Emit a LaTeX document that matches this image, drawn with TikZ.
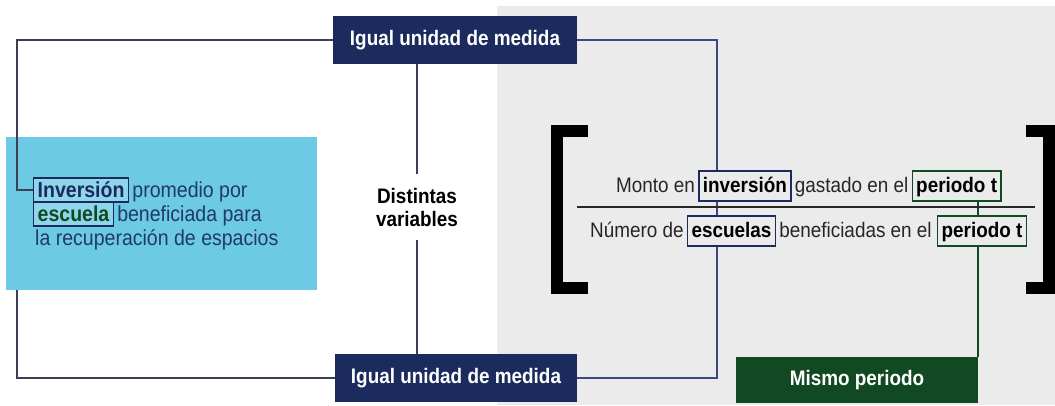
\documentclass[tikz,border=0pt]{standalone}
\usepackage{fontspec}
\setmainfont{Liberation Sans}[FakeStretch=0.9]
\usepackage{xcolor}
\usepackage{tikz}
\usetikzlibrary{positioning,backgrounds}

\definecolor{navy}{HTML}{1C2B5E}
\definecolor{dkgreen}{HTML}{114A22}
\definecolor{skyblue}{HTML}{6DCAE5}
\definecolor{lightsky}{HTML}{8FD6EC}
\definecolor{panelgrey}{HTML}{EBEBEB}
\definecolor{textnavy}{HTML}{21386A}
\definecolor{linegrey}{HTML}{3B4055}
\definecolor{bluelink}{HTML}{3A4A80}

\begin{document}
\begin{tikzpicture}[x=1pt,y=-1pt,
        every node/.style={font=\fontsize{21}{23}\selectfont},
        headbox/.style={fill=#1,text=white,font=\fontsize{21}{23}\selectfont\bfseries,inner sep=0pt,minimum height=48pt},
        plain/.style={inner sep=0pt,text=#1},
        wordbox/.style={draw=#1,line width=1.4pt,fill=panelgrey,inner xsep=4pt,inner ysep=6pt,text height=15pt,text depth=3pt,font=\fontsize{21}{23}\selectfont\bfseries},
        leftbox/.style={draw=navy,line width=1.4pt,fill=lightsky,text=#1,inner xsep=4pt,inner ysep=4pt,text height=15pt,text depth=1pt,font=\fontsize{21.7}{24}\selectfont\bfseries},
        lefttext/.style={inner sep=0pt,text=textnavy,font=\fontsize{21.7}{24}\selectfont},
        link/.style={draw=#1,line width=1.5pt}
    ]
        \useasboundingbox (0,0) rectangle (1055,405);

        \node[headbox=navy,minimum width=244pt] (top) at (455,40) {Igual unidad de medida};
        \node[headbox=navy,minimum width=242pt] (bot) at (456,378) {Igual unidad de medida};
        \node[headbox=dkgreen,minimum width=242pt,minimum height=46pt] (mismo) at (857,380) {Mismo periodo};

        \node[plain=black,align=center,font=\fontsize{21}{23}\selectfont\bfseries,inner ysep=14pt] (mid) at (417,207) {Distintas\\variables};

        \node[leftbox=navy,anchor=base west] (linv) at (33,197) {Inversión};
        \node[lefttext,base right=3pt of linv] (lone) {promedio por};
        \node[leftbox=dkgreen,anchor=base west] (lesc) at (33,221) {escuela};
        \node[lefttext,base right=3pt of lesc] (ltwo) {beneficiada para};
        \node[lefttext,anchor=base west] (lthree) at (35,245) {la recuperación de espacios};

        \node[plain=black!85,anchor=base west] (num1) at (616,192) {Monto en};
        \node[wordbox=navy,base right=3pt of num1] (inv) {inversión};
        \node[plain=black!85,base right=3pt of inv] (num2) {gastado en el};
        \node[wordbox=dkgreen,base right=3pt of num2] (per1) {periodo t};

        \node[plain=black!85,anchor=base west] (den1) at (590,237) {Número de};
        \node[wordbox=navy,base right=3pt of den1] (esc) {escuelas};
        \node[plain=black!85,base right=3pt of esc] (den2) {beneficiadas en el};
        \node[wordbox=dkgreen,base right=5pt of den2] (per2) {periodo t};

        \coordinate (lx) at (17,0);
        \coordinate (bx) at (717,0);

        \begin{scope}[on background layer]
            \fill[white] (0,0) rectangle (1055,405);
            \fill[panelgrey] (497,6) rectangle (1055,405);
            \draw[link=linegrey] (lesc.west) -| (lx |- bot.west) -- (bot.west);
            \fill[skyblue] (6,137) rectangle (317,290);
            \draw[link=linegrey] (top.west) -| (lx |- linv.west) -- (linv.west);
            \draw[link=linegrey] (top.south -| mid.north) -- (mid.north);
            \draw[link=linegrey] (mid.south) -- (bot.north -| mid.south);
            \draw[link=bluelink] (top.east) -| (bx |- bot.east) -- (bot.east);
            \draw[link=dkgreen] (mismo.north east) -- (mismo.north east |- per1.south);
        \end{scope}

        \draw[line width=1.5pt,black!85] (577,207) -- (1035,207);
        \draw[line width=11.5pt,miter limit=10] (588,131) -- (557,131) -- (557,288) -- (588,288);
        \draw[line width=11.5pt,miter limit=10] (1026,131) -- (1049,131) -- (1049,288) -- (1026,288);
    \end{tikzpicture}
\end{document}
